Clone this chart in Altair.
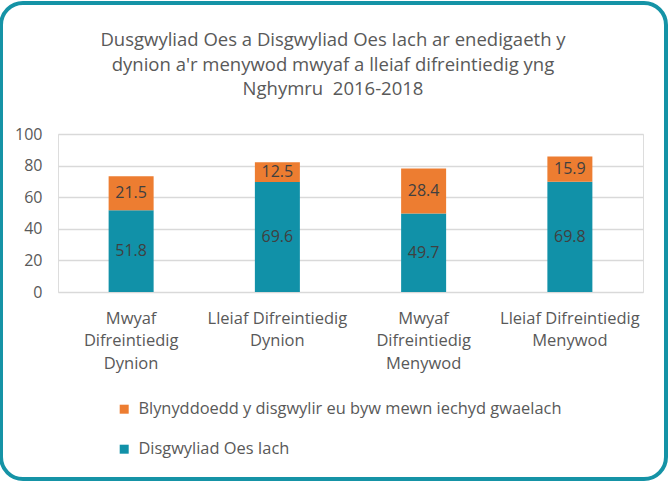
import altair as alt
import pandas as pd

categories = [
    "Mwyaf|Difreintiedig|Dynion",
    "Lleiaf Difreintiedig|Dynion",
    "Mwyaf|Difreintiedig|Menywod",
    "Lleiaf Difreintiedig|Menywod",
]
healthy_years = [51.8, 69.6, 49.7, 69.8]
poor_health_years = [21.5, 12.5, 28.4, 15.9]
series_names = [
    "Blynyddoedd y disgwylir eu byw mewn iechyd gwaelach",
    "Disgwyliad Oes Iach",
]
series_colors = ["#ED7D31", "#1191A8"]
y_ticks = [0, 20, 40, 60, 80, 100]
title_lines = [
    "Dusgwyliad Oes a Disgwyliad Oes Iach ar enedigaeth y",
    "dynion a'r menywod mwyaf a lleiaf difreintiedig yng",
    "Nghymru\u00a0 2016-2018",
]

rows = []
for c, h, p in zip(categories, healthy_years, poor_health_years):
    rows.append({"category": c, "series": series_names[1], "value": h, "ord": 0})
    rows.append({"category": c, "series": series_names[0], "value": p, "ord": 1})
df = pd.DataFrame(rows)

FONT = "Open Sans"
GREY = "#595959"

base = alt.Chart(df).transform_stack(
    stack="value",
    as_=["v0", "v1"],
    groupby=["category"],
    sort=[alt.SortField("ord", order="ascending")],
).transform_calculate(mid="(datum.v0 + datum.v1) / 2")

x_axis = alt.Axis(
    labelExpr="split(datum.label, '|')",
    labelAngle=0,
    labelFontSize=16.5,
    labelFont=FONT,
    labelColor=GREY,
    labelLineHeight=22.5,
    labelPadding=18,
    labelLimit=0,
    labelOverlap=False,
    domain=False,
    ticks=False,
    grid=False,
)
x_scale = alt.Scale(paddingInner=0.69, paddingOuter=0.345)

y_axis = alt.Axis(
    values=y_ticks,
    tickCount=6,
    grid=True,
    gridColor="#D9D9D9",
    gridWidth=1.5,
    domain=False,
    ticks=False,
    labelFontSize=16,
    labelFont=FONT,
    labelColor=GREY,
    labelPadding=16,
    labelOverlap=False,
)
y_scale = alt.Scale(domain=[0, 100], nice=False)

bars = base.mark_bar(size=45).encode(
    x=alt.X("category:N", sort=categories, title=None, scale=x_scale, axis=x_axis),
    y=alt.Y("v0:Q", title=None, scale=y_scale, axis=y_axis),
    y2="v1:Q",
    color=alt.Color(
        "series:N",
        scale=alt.Scale(domain=series_names, range=series_colors),
        legend=alt.Legend(
            title=None,
            orient="none",
            legendX=58,
            legendY=267,
            direction="vertical",
            symbolType="square",
            symbolSize=81,
            symbolStrokeWidth=0,
            labelFontSize=16.4,
            labelFont=FONT,
            labelColor=GREY,
            labelOffset=6,
            labelLimit=0,
            rowPadding=23,
        ),
    ),
    order=alt.Order("ord:Q"),
)

labels = base.mark_text(fontSize=16, font=FONT, color="#404040").encode(
    x=alt.X("category:N", sort=categories, title=None, scale=x_scale, axis=x_axis),
    y=alt.Y("mid:Q", title=None, scale=y_scale, axis=y_axis),
    text=alt.Text("value:Q", format=".1f"),
)

title = alt.Chart(alt.Data(values=[{"t": "\n".join(title_lines)}])).mark_text(
    fontSize=18.5,
    font=FONT,
    color=GREY,
    align="center",
    baseline="middle",
    lineBreak="\n",
    lineHeight=24.5,
).encode(
    x=alt.value(275),
    y=alt.value(-94),
    text="t:N",
)

frame = alt.Chart(alt.Data(values=[{}])).mark_rect(
    fill="transparent",
    stroke="#1593A6",
    strokeWidth=4,
    cornerRadius=22,
).encode(
    x=alt.value(-57),
    x2=alt.value(608),
    y=alt.value(-131),
    y2=alt.value(345),
)

chart = alt.layer(frame, title, bars, labels).properties(
    width=585,
    height=158,
    padding={"left": 58, "top": 134, "right": 26, "bottom": 194},
    autosize=alt.AutoSizeParams(type="none"),
).configure_view(stroke=None).configure(background="white")

chart.save("out.html", embed_options={"renderer": "svg", "actions": False})
